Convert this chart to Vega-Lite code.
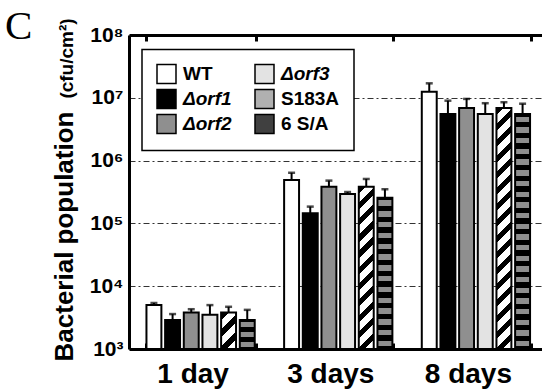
{
 "$schema": "https://vega.github.io/schema/vega-lite/v6.json",
 "width": 413,
 "height": 314,
 "autosize": {"type": "none"},
 "padding": {"left": 129, "top": 35, "right": 0, "bottom": 43},
 "config": {"view": {"stroke": null}, "font": "Liberation Sans"},
 "title": {"text": "C", "anchor": "start", "frame": "group", "font": "Liberation Serif", "fontSize": 41, "fontWeight": "normal", "color": "black", "dx": -124, "dy": 30, "offset": 0},
 "data": {"values": [
  {"day": "1 day", "strain": "WT", "mean": 5000, "upper": 5400},
  {"day": "1 day", "strain": "Δorf1", "mean": 2900, "upper": 3600},
  {"day": "1 day", "strain": "Δorf2", "mean": 3800, "upper": 4300},
  {"day": "1 day", "strain": "Δorf3", "mean": 3500, "upper": 5000},
  {"day": "1 day", "strain": "S183A", "mean": 3800, "upper": 4700},
  {"day": "1 day", "strain": "6 S/A", "mean": 2900, "upper": 4200},
  {"day": "3 days", "strain": "WT", "mean": 490000, "upper": 640000},
  {"day": "3 days", "strain": "Δorf1", "mean": 145000, "upper": 185000},
  {"day": "3 days", "strain": "Δorf2", "mean": 384000, "upper": 480000},
  {"day": "3 days", "strain": "Δorf3", "mean": 294000, "upper": 316000},
  {"day": "3 days", "strain": "S183A", "mean": 384000, "upper": 510000},
  {"day": "3 days", "strain": "6 S/A", "mean": 257000, "upper": 350000},
  {"day": "8 days", "strain": "WT", "mean": 12500000, "upper": 17000000},
  {"day": "8 days", "strain": "Δorf1", "mean": 5500000, "upper": 9000000},
  {"day": "8 days", "strain": "Δorf2", "mean": 6900000, "upper": 9600000},
  {"day": "8 days", "strain": "Δorf3", "mean": 5500000, "upper": 8200000},
  {"day": "8 days", "strain": "S183A", "mean": 6900000, "upper": 8500000},
  {"day": "8 days", "strain": "6 S/A", "mean": 5500000, "upper": 8050000}
 ]},
 "encoding": {
  "x": {"field": "day", "type": "nominal", "scale": {"domain": ["1 day", "3 days", "8 days"], "paddingInner": 0.2, "paddingOuter": 0.1, "align": 0.6}, "axis": null},
  "xOffset": {"field": "strain", "type": "nominal", "scale": {"domain": ["WT", "Δorf1", "Δorf2", "Δorf3", "S183A", "6 S/A"], "paddingInner": 0.2, "paddingOuter": 0.05}},
  "y": {"field": "mean", "type": "quantitative", "stack": null, "scale": {"type": "log", "domain": [1000, 100000000], "nice": false}, "axis": null}
 },
 "layer": [
  {
   "transform": [{"filter": {"field": "strain", "oneOf": ["WT", "Δorf1", "Δorf2", "Δorf3"]}}],
   "mark": {"type": "bar", "stroke": "black", "strokeWidth": 2},
   "encoding": {
    "x": {"field": "day", "type": "nominal", "scale": {"domain": ["1 day", "3 days", "8 days"], "paddingInner": 0.2, "paddingOuter": 0.1, "align": 0.6},
     "axis": {"orient": "bottom", "title": null, "domainColor": "black", "domainWidth": 3, "ticks": true, "tickBand": "extent", "tickSize": -6, "tickWidth": 3, "tickColor": "black", "labelFont": "Liberation Sans", "labelFontSize": 28, "labelFontWeight": "bold", "labelColor": "black", "labelAngle": 0, "labelPadding": 17, "labelOffset": -8}},
    "y": {"field": "mean", "type": "quantitative", "stack": null, "scale": {"type": "log", "domain": [1000, 100000000], "nice": false},
     "axis": {"orient": "left", "title": "Bacterial population", "titleFont": "Liberation Sans", "titleFontSize": 26, "titleFontWeight": "bold", "titleColor": "black", "titleX": -57, "titleY": 201, "titleBaseline": "alphabetic", "titleAngle": -90, "titleAlign": "center",
      "values": [1000, 10000, 100000, 1000000, 10000000, 100000000], "grid": true, "gridDash": [6, 3, 2, 3], "gridColor": "#333333", "gridWidth": 1, "gridOpacity": 1,
      "domainColor": "black", "domainWidth": 3, "ticks": false, "tickSize": 0, "labelPadding": 6, "labelFont": "Liberation Sans", "labelFontSize": 21, "labelFontWeight": "bold", "labelColor": "black",
      "labelExpr": "'10' + ['³','⁴','⁵','⁶','⁷','⁸'][round(log(datum.value)/LN10) - 3]"}},
    "fill": {"field": "strain", "type": "nominal",
     "scale": {"domain": ["WT", "Δorf1", "Δorf2", "Δorf3", "S183A", "6 S/A"],
      "range": ["#ffffff", "#000000", "#8f8f8f", "#e3e3e3", "#b0b0b0", "#404040"]},
     "legend": {"orient": "none", "legendX": 13, "legendY": 14.5, "columns": 2, "title": null, "symbolType": "square", "symbolSize": 361, "symbolStrokeColor": "black", "symbolStrokeWidth": 1.5, "symbolOpacity": 1, "labelFont": "Liberation Sans", "labelFontSize": 19, "labelFontWeight": "bold", "labelColor": "black", "labelOffset": 6, "rowPadding": 0, "columnPadding": 20, "padding": 14, "strokeColor": "black", "fillColor": "white",
      "encode": {
       "labels": {"update": {"fontStyle": {"signal": "indexof(datum.label, 'orf') >= 0 ? 'italic' : 'normal'"}}},
       "symbols": {"update": {"stroke": {"value": "black"}, "strokeWidth": {"value": 1.5}}},
       "legend": {"update": {"strokeWidth": {"value": 1.5}}}}}
    }
   }
  },
  {
   "transform": [{"filter": "datum.strain == 'S183A' && datum.day == '1 day'"}],
   "mark": {"type": "bar", "stroke": "black", "strokeWidth": 2, "fill": {"gradient": "linear", "x1": 0, "y1": 0, "x2": 0.4948, "y2": 1.2063, "stops": [{"offset": 0, "color": "#000"}, {"offset": 0.15, "color": "#000"}, {"offset": 0.15, "color": "#fff"}, {"offset": 0.3333, "color": "#fff"}, {"offset": 0.3333, "color": "#000"}, {"offset": 0.4833, "color": "#000"}, {"offset": 0.4833, "color": "#fff"}, {"offset": 0.6667, "color": "#fff"}, {"offset": 0.6667, "color": "#000"}, {"offset": 0.8167, "color": "#000"}, {"offset": 0.8167, "color": "#fff"}, {"offset": 1, "color": "#fff"}]}}
  },
  {
   "transform": [{"filter": "datum.strain == 'S183A' && datum.day == '3 days'"}],
   "mark": {"type": "bar", "stroke": "black", "strokeWidth": 2, "fill": {"gradient": "linear", "x1": 0, "y1": 0, "x2": 0.0996, "y2": 1.0829, "stops": [{"offset": 0, "color": "#000"}, {"offset": 0.0409, "color": "#000"}, {"offset": 0.0409, "color": "#fff"}, {"offset": 0.0909, "color": "#fff"}, {"offset": 0.0909, "color": "#000"}, {"offset": 0.1318, "color": "#000"}, {"offset": 0.1318, "color": "#fff"}, {"offset": 0.1818, "color": "#fff"}, {"offset": 0.1818, "color": "#000"}, {"offset": 0.2227, "color": "#000"}, {"offset": 0.2227, "color": "#fff"}, {"offset": 0.2727, "color": "#fff"}, {"offset": 0.2727, "color": "#000"}, {"offset": 0.3136, "color": "#000"}, {"offset": 0.3136, "color": "#fff"}, {"offset": 0.3636, "color": "#fff"}, {"offset": 0.3636, "color": "#000"}, {"offset": 0.4045, "color": "#000"}, {"offset": 0.4045, "color": "#fff"}, {"offset": 0.4545, "color": "#fff"}, {"offset": 0.4545, "color": "#000"}, {"offset": 0.4954, "color": "#000"}, {"offset": 0.4954, "color": "#fff"}, {"offset": 0.5455, "color": "#fff"}, {"offset": 0.5455, "color": "#000"}, {"offset": 0.5864, "color": "#000"}, {"offset": 0.5864, "color": "#fff"}, {"offset": 0.6364, "color": "#fff"}, {"offset": 0.6364, "color": "#000"}, {"offset": 0.6773, "color": "#000"}, {"offset": 0.6773, "color": "#fff"}, {"offset": 0.7273, "color": "#fff"}, {"offset": 0.7273, "color": "#000"}, {"offset": 0.7682, "color": "#000"}, {"offset": 0.7682, "color": "#fff"}, {"offset": 0.8182, "color": "#fff"}, {"offset": 0.8182, "color": "#000"}, {"offset": 0.8591, "color": "#000"}, {"offset": 0.8591, "color": "#fff"}, {"offset": 0.9091, "color": "#fff"}, {"offset": 0.9091, "color": "#000"}, {"offset": 0.95, "color": "#000"}, {"offset": 0.95, "color": "#fff"}, {"offset": 1, "color": "#fff"}]}}
  },
  {
   "transform": [{"filter": "datum.strain == 'S183A' && datum.day == '8 days'"}],
   "mark": {"type": "bar", "stroke": "black", "strokeWidth": 2, "fill": {"gradient": "linear", "x1": 0, "y1": 0, "x2": 0.0655, "y2": 1.0579, "stops": [{"offset": 0, "color": "#000"}, {"offset": 0.0281, "color": "#000"}, {"offset": 0.0281, "color": "#fff"}, {"offset": 0.0625, "color": "#fff"}, {"offset": 0.0625, "color": "#000"}, {"offset": 0.0906, "color": "#000"}, {"offset": 0.0906, "color": "#fff"}, {"offset": 0.125, "color": "#fff"}, {"offset": 0.125, "color": "#000"}, {"offset": 0.1531, "color": "#000"}, {"offset": 0.1531, "color": "#fff"}, {"offset": 0.1875, "color": "#fff"}, {"offset": 0.1875, "color": "#000"}, {"offset": 0.2156, "color": "#000"}, {"offset": 0.2156, "color": "#fff"}, {"offset": 0.25, "color": "#fff"}, {"offset": 0.25, "color": "#000"}, {"offset": 0.2781, "color": "#000"}, {"offset": 0.2781, "color": "#fff"}, {"offset": 0.3125, "color": "#fff"}, {"offset": 0.3125, "color": "#000"}, {"offset": 0.3406, "color": "#000"}, {"offset": 0.3406, "color": "#fff"}, {"offset": 0.375, "color": "#fff"}, {"offset": 0.375, "color": "#000"}, {"offset": 0.4031, "color": "#000"}, {"offset": 0.4031, "color": "#fff"}, {"offset": 0.4375, "color": "#fff"}, {"offset": 0.4375, "color": "#000"}, {"offset": 0.4656, "color": "#000"}, {"offset": 0.4656, "color": "#fff"}, {"offset": 0.5, "color": "#fff"}, {"offset": 0.5, "color": "#000"}, {"offset": 0.5281, "color": "#000"}, {"offset": 0.5281, "color": "#fff"}, {"offset": 0.5625, "color": "#fff"}, {"offset": 0.5625, "color": "#000"}, {"offset": 0.5906, "color": "#000"}, {"offset": 0.5906, "color": "#fff"}, {"offset": 0.625, "color": "#fff"}, {"offset": 0.625, "color": "#000"}, {"offset": 0.6531, "color": "#000"}, {"offset": 0.6531, "color": "#fff"}, {"offset": 0.6875, "color": "#fff"}, {"offset": 0.6875, "color": "#000"}, {"offset": 0.7156, "color": "#000"}, {"offset": 0.7156, "color": "#fff"}, {"offset": 0.75, "color": "#fff"}, {"offset": 0.75, "color": "#000"}, {"offset": 0.7781, "color": "#000"}, {"offset": 0.7781, "color": "#fff"}, {"offset": 0.8125, "color": "#fff"}, {"offset": 0.8125, "color": "#000"}, {"offset": 0.8406, "color": "#000"}, {"offset": 0.8406, "color": "#fff"}, {"offset": 0.875, "color": "#fff"}, {"offset": 0.875, "color": "#000"}, {"offset": 0.9031, "color": "#000"}, {"offset": 0.9031, "color": "#fff"}, {"offset": 0.9375, "color": "#fff"}, {"offset": 0.9375, "color": "#000"}, {"offset": 0.9656, "color": "#000"}, {"offset": 0.9656, "color": "#fff"}, {"offset": 1, "color": "#fff"}]}}
  },
  {
   "transform": [{"filter": "datum.strain == '6 S/A' && datum.day == '1 day'"}],
   "mark": {"type": "bar", "stroke": "black", "strokeWidth": 2, "fill": {"gradient": "linear", "x1": 0, "y1": 0, "x2": 0, "y2": 1, "stops": [{"offset": 0, "color": "#000"}, {"offset": 0.0833, "color": "#000"}, {"offset": 0.0833, "color": "#8f8f8f"}, {"offset": 0.25, "color": "#8f8f8f"}, {"offset": 0.25, "color": "#000"}, {"offset": 0.4167, "color": "#000"}, {"offset": 0.4167, "color": "#8f8f8f"}, {"offset": 0.5833, "color": "#8f8f8f"}, {"offset": 0.5833, "color": "#000"}, {"offset": 0.75, "color": "#000"}, {"offset": 0.75, "color": "#8f8f8f"}, {"offset": 0.9167, "color": "#8f8f8f"}, {"offset": 0.9167, "color": "#000"}, {"offset": 1, "color": "#000"}]}}
  },
  {
   "transform": [{"filter": "datum.strain == '6 S/A' && datum.day == '3 days'"}],
   "mark": {"type": "bar", "stroke": "black", "strokeWidth": 2, "fill": {"gradient": "linear", "x1": 0, "y1": 0, "x2": 0, "y2": 1, "stops": [{"offset": 0, "color": "#000"}, {"offset": 0.0179, "color": "#000"}, {"offset": 0.0179, "color": "#8f8f8f"}, {"offset": 0.0536, "color": "#8f8f8f"}, {"offset": 0.0536, "color": "#000"}, {"offset": 0.0893, "color": "#000"}, {"offset": 0.0893, "color": "#8f8f8f"}, {"offset": 0.125, "color": "#8f8f8f"}, {"offset": 0.125, "color": "#000"}, {"offset": 0.1607, "color": "#000"}, {"offset": 0.1607, "color": "#8f8f8f"}, {"offset": 0.1964, "color": "#8f8f8f"}, {"offset": 0.1964, "color": "#000"}, {"offset": 0.2321, "color": "#000"}, {"offset": 0.2321, "color": "#8f8f8f"}, {"offset": 0.2679, "color": "#8f8f8f"}, {"offset": 0.2679, "color": "#000"}, {"offset": 0.3036, "color": "#000"}, {"offset": 0.3036, "color": "#8f8f8f"}, {"offset": 0.3393, "color": "#8f8f8f"}, {"offset": 0.3393, "color": "#000"}, {"offset": 0.375, "color": "#000"}, {"offset": 0.375, "color": "#8f8f8f"}, {"offset": 0.4107, "color": "#8f8f8f"}, {"offset": 0.4107, "color": "#000"}, {"offset": 0.4464, "color": "#000"}, {"offset": 0.4464, "color": "#8f8f8f"}, {"offset": 0.4821, "color": "#8f8f8f"}, {"offset": 0.4821, "color": "#000"}, {"offset": 0.5179, "color": "#000"}, {"offset": 0.5179, "color": "#8f8f8f"}, {"offset": 0.5536, "color": "#8f8f8f"}, {"offset": 0.5536, "color": "#000"}, {"offset": 0.5893, "color": "#000"}, {"offset": 0.5893, "color": "#8f8f8f"}, {"offset": 0.625, "color": "#8f8f8f"}, {"offset": 0.625, "color": "#000"}, {"offset": 0.6607, "color": "#000"}, {"offset": 0.6607, "color": "#8f8f8f"}, {"offset": 0.6964, "color": "#8f8f8f"}, {"offset": 0.6964, "color": "#000"}, {"offset": 0.7321, "color": "#000"}, {"offset": 0.7321, "color": "#8f8f8f"}, {"offset": 0.7679, "color": "#8f8f8f"}, {"offset": 0.7679, "color": "#000"}, {"offset": 0.8036, "color": "#000"}, {"offset": 0.8036, "color": "#8f8f8f"}, {"offset": 0.8393, "color": "#8f8f8f"}, {"offset": 0.8393, "color": "#000"}, {"offset": 0.875, "color": "#000"}, {"offset": 0.875, "color": "#8f8f8f"}, {"offset": 0.9107, "color": "#8f8f8f"}, {"offset": 0.9107, "color": "#000"}, {"offset": 0.9464, "color": "#000"}, {"offset": 0.9464, "color": "#8f8f8f"}, {"offset": 0.9821, "color": "#8f8f8f"}, {"offset": 0.9821, "color": "#000"}, {"offset": 1, "color": "#000"}]}}
  },
  {
   "transform": [{"filter": "datum.strain == '6 S/A' && datum.day == '8 days'"}],
   "mark": {"type": "bar", "stroke": "black", "strokeWidth": 2, "fill": {"gradient": "linear", "x1": 0, "y1": 0, "x2": 0, "y2": 1, "stops": [{"offset": 0, "color": "#000"}, {"offset": 0.0114, "color": "#000"}, {"offset": 0.0114, "color": "#8f8f8f"}, {"offset": 0.0341, "color": "#8f8f8f"}, {"offset": 0.0341, "color": "#000"}, {"offset": 0.0568, "color": "#000"}, {"offset": 0.0568, "color": "#8f8f8f"}, {"offset": 0.0795, "color": "#8f8f8f"}, {"offset": 0.0795, "color": "#000"}, {"offset": 0.1023, "color": "#000"}, {"offset": 0.1023, "color": "#8f8f8f"}, {"offset": 0.125, "color": "#8f8f8f"}, {"offset": 0.125, "color": "#000"}, {"offset": 0.1477, "color": "#000"}, {"offset": 0.1477, "color": "#8f8f8f"}, {"offset": 0.1705, "color": "#8f8f8f"}, {"offset": 0.1705, "color": "#000"}, {"offset": 0.1932, "color": "#000"}, {"offset": 0.1932, "color": "#8f8f8f"}, {"offset": 0.2159, "color": "#8f8f8f"}, {"offset": 0.2159, "color": "#000"}, {"offset": 0.2386, "color": "#000"}, {"offset": 0.2386, "color": "#8f8f8f"}, {"offset": 0.2614, "color": "#8f8f8f"}, {"offset": 0.2614, "color": "#000"}, {"offset": 0.2841, "color": "#000"}, {"offset": 0.2841, "color": "#8f8f8f"}, {"offset": 0.3068, "color": "#8f8f8f"}, {"offset": 0.3068, "color": "#000"}, {"offset": 0.3295, "color": "#000"}, {"offset": 0.3295, "color": "#8f8f8f"}, {"offset": 0.3523, "color": "#8f8f8f"}, {"offset": 0.3523, "color": "#000"}, {"offset": 0.375, "color": "#000"}, {"offset": 0.375, "color": "#8f8f8f"}, {"offset": 0.3977, "color": "#8f8f8f"}, {"offset": 0.3977, "color": "#000"}, {"offset": 0.4205, "color": "#000"}, {"offset": 0.4205, "color": "#8f8f8f"}, {"offset": 0.4432, "color": "#8f8f8f"}, {"offset": 0.4432, "color": "#000"}, {"offset": 0.4659, "color": "#000"}, {"offset": 0.4659, "color": "#8f8f8f"}, {"offset": 0.4886, "color": "#8f8f8f"}, {"offset": 0.4886, "color": "#000"}, {"offset": 0.5114, "color": "#000"}, {"offset": 0.5114, "color": "#8f8f8f"}, {"offset": 0.5341, "color": "#8f8f8f"}, {"offset": 0.5341, "color": "#000"}, {"offset": 0.5568, "color": "#000"}, {"offset": 0.5568, "color": "#8f8f8f"}, {"offset": 0.5795, "color": "#8f8f8f"}, {"offset": 0.5795, "color": "#000"}, {"offset": 0.6023, "color": "#000"}, {"offset": 0.6023, "color": "#8f8f8f"}, {"offset": 0.625, "color": "#8f8f8f"}, {"offset": 0.625, "color": "#000"}, {"offset": 0.6477, "color": "#000"}, {"offset": 0.6477, "color": "#8f8f8f"}, {"offset": 0.6705, "color": "#8f8f8f"}, {"offset": 0.6705, "color": "#000"}, {"offset": 0.6932, "color": "#000"}, {"offset": 0.6932, "color": "#8f8f8f"}, {"offset": 0.7159, "color": "#8f8f8f"}, {"offset": 0.7159, "color": "#000"}, {"offset": 0.7386, "color": "#000"}, {"offset": 0.7386, "color": "#8f8f8f"}, {"offset": 0.7614, "color": "#8f8f8f"}, {"offset": 0.7614, "color": "#000"}, {"offset": 0.7841, "color": "#000"}, {"offset": 0.7841, "color": "#8f8f8f"}, {"offset": 0.8068, "color": "#8f8f8f"}, {"offset": 0.8068, "color": "#000"}, {"offset": 0.8295, "color": "#000"}, {"offset": 0.8295, "color": "#8f8f8f"}, {"offset": 0.8523, "color": "#8f8f8f"}, {"offset": 0.8523, "color": "#000"}, {"offset": 0.875, "color": "#000"}, {"offset": 0.875, "color": "#8f8f8f"}, {"offset": 0.8977, "color": "#8f8f8f"}, {"offset": 0.8977, "color": "#000"}, {"offset": 0.9205, "color": "#000"}, {"offset": 0.9205, "color": "#8f8f8f"}, {"offset": 0.9432, "color": "#8f8f8f"}, {"offset": 0.9432, "color": "#000"}, {"offset": 0.9659, "color": "#000"}, {"offset": 0.9659, "color": "#8f8f8f"}, {"offset": 0.9886, "color": "#8f8f8f"}, {"offset": 0.9886, "color": "#000"}, {"offset": 1, "color": "#000"}]}}
  },
  {
   "mark": {"type": "rule", "color": "black", "strokeWidth": 2},
   "encoding": {
    "x": {"field": "day", "type": "nominal", "scale": {"domain": ["1 day", "3 days", "8 days"], "paddingInner": 0.2, "paddingOuter": 0.1, "align": 0.6},
     "axis": {"orient": "top", "title": null, "labels": false, "grid": false, "domainColor": "black", "domainWidth": 3, "ticks": true, "tickBand": "extent", "tickSize": -6, "tickWidth": 3, "tickColor": "black"}},
    "y": {"field": "mean", "type": "quantitative", "stack": null, "scale": {"type": "log", "domain": [1000, 100000000], "nice": false},
     "axis": {"orient": "left", "title": "(cfu/cm²)", "titleFont": "Liberation Sans", "titleFontSize": 19, "titleFontWeight": "bold", "titleColor": "black", "titleX": -57, "titleY": 23, "titleBaseline": "alphabetic", "titleAngle": -90, "titleAlign": "center", "labels": false, "ticks": false, "domain": false, "grid": false}},
    "y2": {"field": "upper"}
   }
  },
  {
   "mark": {"type": "tick", "color": "black", "thickness": 2.5, "size": 7},
   "encoding": {
    "y": {"field": "upper", "type": "quantitative", "stack": null, "scale": {"type": "log", "domain": [1000, 100000000], "nice": false}, "axis": null}
   }
  }
 ],
 "resolve": {"axis": {"x": "independent", "y": "independent"}}
}
